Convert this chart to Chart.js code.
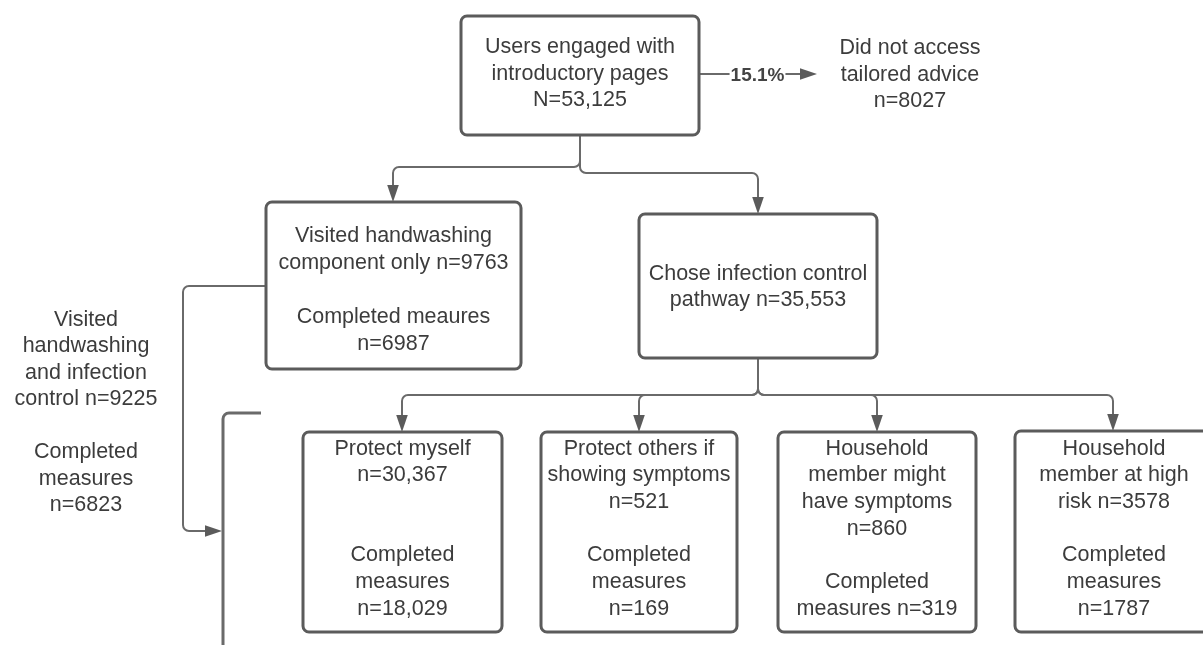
<!DOCTYPE html>
<html><head><meta charset="utf-8">
<script src="https://cdn.jsdelivr.net/npm/chart.js@4.4.1/dist/chart.umd.min.js"></script>
<style>html,body{margin:0;padding:0;background:#fff;overflow:hidden}#wrap{width:1203px;height:645px}</style>
</head><body><div id="wrap"><canvas id="c" width="1203" height="645"></canvas></div>
<script>
// ---------------- data ----------------
const categories = [
  'Users engaged with introductory pages',
  'Did not access tailored advice',
  'Visited handwashing component only',
  'Chose infection control pathway',
  'Visited handwashing and infection control',
  'Protect myself',
  'Protect others if showing symptoms',
  'Household member might have symptoms',
  'Household member at high risk'
];
const counts = [53125, 8027, 9763, 35553, 9225, 30367, 521, 860, 3578];
const completedCounts = [null, null, 6987, null, 6823, 18029, 169, 319, 1787];
const flowPercentLabels = ['15.1%'];
// wrapped text lines of each node; {n} = count, {c} = completed measures
const nodeLines = [
  ['Users engaged with', 'introductory pages', 'N={n}'],
  ['Did not access', 'tailored advice', 'n={n}'],
  ['Visited handwashing', 'component only n={n}', '', 'Completed meaures', 'n={c}'],
  ['Chose infection control', 'pathway n={n}'],
  ['Visited', 'handwashing', 'and infection', 'control n={n}', '', 'Completed', 'measures', 'n={c}'],
  ['Protect myself', 'n={n}', '', '', 'Completed', 'measures', 'n={c}'],
  ['Protect others if', 'showing symptoms', 'n={n}', '', 'Completed', 'measures', 'n={c}'],
  ['Household', 'member might', 'have symptoms', 'n={n}', '', 'Completed', 'measures n={c}'],
  ['Household', 'member at high', 'risk n={n}', '', 'Completed', 'measures', 'n={c}']
];

// ---------------- layout (diagram coordinates) ----------------
const nodeBoxes = [
  [461, 16, 699, 135], null, [266, 202, 521, 369], [639, 214, 877, 358], null,
  [303, 432, 502, 632], [541, 432, 737, 632], [778, 432, 976, 632], [1015, 431, 1213, 632]
];
const nodeText = [ // [centre x, first line y, line step]
  [580, 45.5, 26.6], [910, 46.5, 26.6], [393.5, 234, 27], [758, 272, 26.5], [86, 318, 26.5],
  [402.5, 447, 26.67], [639, 447, 26.67], [877, 447, 26.67], [1114, 447, 26.67]
];
const edges = [
  {pts: [[580,135],[580,167],[393,167],[393,202]], arrow: true},
  {pts: [[580,135],[580,173],[758,173],[758,214]], arrow: true},
  {pts: [[266,286],[183,286],[183,531],[222,531]], arrow: true},
  {pts: [[758,358],[758,395],[402,395],[402,432]], arrow: true},
  {pts: [[758,358],[758,395],[639,395],[639,432]], arrow: true},
  {pts: [[758,358],[758,395],[877,395],[877,432]], arrow: true},
  {pts: [[758,358],[758,395],[1113,395],[1113,431]], arrow: true},
  {pts: [[261,413],[223,413],[223,660]], arrow: false, width: 3}
];
const percentEdge = {pts: [[699,74],[817,74]], labelX: 757.5};

function fmt(v) { return v >= 10000 ? v.toLocaleString('en-US') : String(v); }

const flowPlugin = {
  id: 'flow',
  afterDatasetsDraw(chart) {
    const ctx = chart.ctx, xs = chart.scales.x, ys = chart.scales.y;
    const P = p => [xs.getPixelForValue(p[0]), ys.getPixelForValue(p[1])];
    const LINE = '#6a6a6a', BOX = '#5b5b5b', TEXT = '#3c3c3c';
    function polyline(pts, arrow, width) {
      const q = pts.map(P);
      let end = q[q.length - 1];
      const prev = q[q.length - 2];
      const dx = end[0] - prev[0], dy = end[1] - prev[1];
      const L = Math.hypot(dx, dy), ux = dx / L, uy = dy / L;
      const AL = 17, AW = 5.8;
      const lineEnd = arrow ? [end[0] - ux * (AL - 2), end[1] - uy * (AL - 2)] : end;
      ctx.save();
      ctx.strokeStyle = LINE; ctx.lineWidth = width || 2; ctx.lineJoin = 'round';
      ctx.beginPath();
      ctx.moveTo(q[0][0], q[0][1]);
      for (let i = 1; i < q.length - 1; i++) {
        const nx = (i + 1 < q.length - 1 ? q[i+1] : lineEnd);
        ctx.arcTo(q[i][0], q[i][1], nx[0], nx[1], 6);
      }
      ctx.lineTo(lineEnd[0], lineEnd[1]);
      ctx.stroke();
      if (arrow) {
        ctx.fillStyle = BOX;
        ctx.beginPath();
        ctx.moveTo(end[0], end[1]);
        ctx.lineTo(end[0] - ux * AL - uy * AW, end[1] - uy * AL + ux * AW);
        ctx.lineTo(end[0] - ux * AL + uy * AW, end[1] - uy * AL - ux * AW);
        ctx.closePath(); ctx.fill();
      }
      ctx.restore();
    }
    edges.forEach(e => polyline(e.pts, e.arrow, e.width));
    // percent arrow
    polyline(percentEdge.pts, true, 2);
    ctx.save();
    ctx.font = 'bold 19px "Liberation Sans", Arial, sans-serif';
    const lx = xs.getPixelForValue(percentEdge.labelX), ly = ys.getPixelForValue(percentEdge.pts[0][1]);
    const tw = ctx.measureText(flowPercentLabels[0]).width;
    ctx.fillStyle = '#fff'; ctx.fillRect(lx - tw / 2 - 1, ly - 10, tw + 2, 20);
    ctx.fillStyle = '#444'; ctx.textAlign = 'center'; ctx.textBaseline = 'alphabetic';
    ctx.fillText(flowPercentLabels[0], lx, ly + 6.8);
    ctx.restore();
    // boxes
    nodeBoxes.forEach(b => {
      if (!b) return;
      const a = P([b[0], b[1]]), c = P([b[2], b[3]]);
      ctx.save();
      ctx.strokeStyle = BOX; ctx.lineWidth = 3;
      ctx.beginPath(); ctx.roundRect(a[0], a[1], c[0] - a[0], c[1] - a[1], 6); ctx.stroke();
      ctx.restore();
    });
    // texts
    ctx.save();
    ctx.font = '21.5px "Liberation Sans", Arial, sans-serif';
    ctx.fillStyle = TEXT; ctx.textAlign = 'center'; ctx.textBaseline = 'alphabetic';
    nodeLines.forEach((lines, i) => {
      const [cx, y0, step] = nodeText[i];
      lines.forEach((ln, k) => {
        if (!ln) return;
        const s = ln.replace('{n}', fmt(counts[i])).replace('{c}', completedCounts[i] == null ? '' : fmt(completedCounts[i]));
        const p = P([cx, y0 + k * step]);
        ctx.fillText(s, p[0], p[1] + 7.7);
      });
    });
    ctx.restore();
  }
};

new Chart(document.getElementById('c'), {
  type: 'scatter',
  data: {
    labels: categories,
    datasets: [{
      label: 'Nodes',
      data: categories.map((_, i) => ({x: nodeText[i][0], y: nodeText[i][1]})),
      pointRadius: 0, pointHoverRadius: 0
    }]
  },
  options: {
    responsive: false, animation: false, devicePixelRatio: 1,
    layout: {padding: 0},
    plugins: {legend: {display: false}, tooltip: {enabled: false}, title: {display: false}},
    scales: {
      x: {type: 'linear', min: 0, max: 1203, display: false},
      y: {type: 'linear', min: 0, max: 645, reverse: true, display: false}
    }
  },
  plugins: [flowPlugin]
});
</script></body></html>
